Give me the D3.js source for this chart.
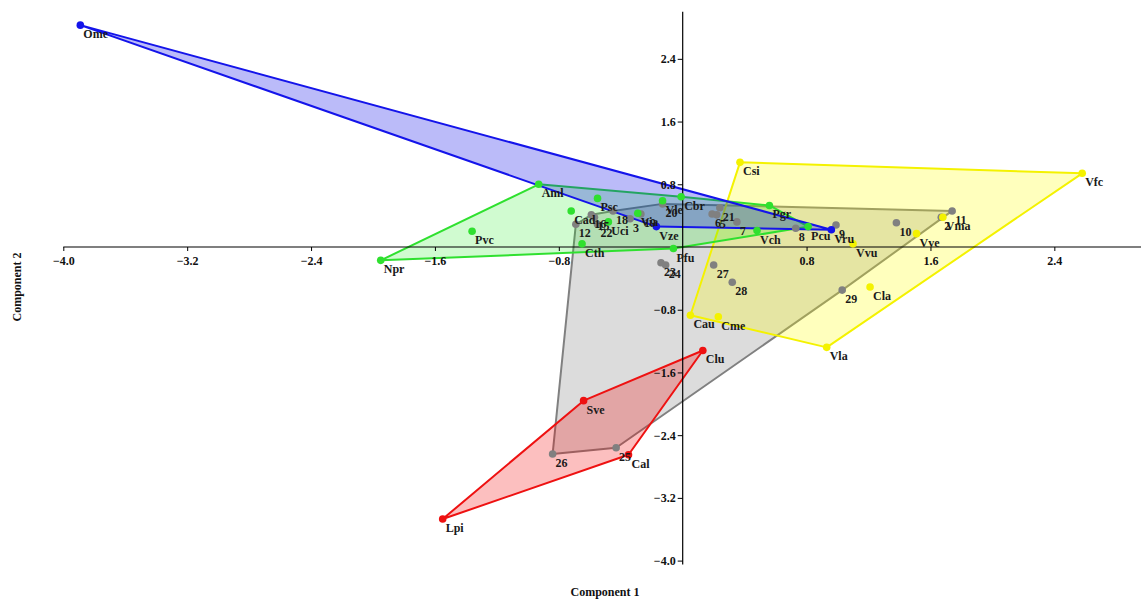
<!DOCTYPE html>
<html>
<head>
<meta charset="utf-8">
<script src="https://cdn.jsdelivr.net/npm/d3@7"></script>
<style>
  html, body { margin: 0; padding: 0; background: #fff; }
  svg { display: block; }
  text { font-family: "Liberation Serif", "Times New Roman", serif; font-weight: bold; }
</style>
</head>
<body>
<svg id="chart" width="1141" height="599"></svg>
<script>
// Scores on the first two components, one array per group: [label, comp1, comp2]
const grayGroup = [
  ["2", 1.67, 0.38], ["3", -0.34, 0.36], ["5", 0.22, 0.41], ["6", 0.19, 0.42],
  ["7", 0.35, 0.32], ["8", 0.73, 0.24], ["9", 0.99, 0.28], ["10", 1.38, 0.31],
  ["11", 1.74, 0.46], ["12", -0.69, 0.29], ["15", -0.57, 0.38], ["16", -0.59, 0.41],
  ["18", -0.45, 0.46], ["19", -0.27, 0.42], ["20", -0.13, 0.55], ["21", 0.24, 0.50],
  ["22", -0.55, 0.29], ["23", -0.14, -0.20], ["24", -0.11, -0.23], ["25", -0.43, -2.56],
  ["26", -0.84, -2.64], ["27", 0.20, -0.23], ["28", 0.32, -0.45], ["29", 1.03, -0.55]
];
const yellowGroup = [
  ["Csi", 0.37, 1.08], ["Vfc", 2.58, 0.94], ["Vla", 0.93, -1.28], ["Cau", 0.05, -0.87],
  ["Cme", 0.23, -0.89], ["Cla", 1.21, -0.51], ["Vve", 1.51, 0.17], ["Vvu", 1.10, 0.04],
  ["Vma", 1.68, 0.38]
];
const greenGroup = [
  ["Aml", -0.93, 0.80], ["Npr", -1.95, -0.17], ["Pvc", -1.36, 0.20], ["Psc", -0.55, 0.62],
  ["Cad", -0.72, 0.46], ["Cth", -0.65, 0.04], ["Uci", -0.48, 0.32], ["Via", -0.29, 0.43],
  ["Vle", -0.13, 0.59], ["Cbr", -0.01, 0.64], ["Pfu", -0.06, -0.02], ["Vch", 0.48, 0.21],
  ["Pgr", 0.56, 0.53], ["Pcu", 0.81, 0.26]
];
const blueGroup = [
  ["Ome", -3.89, 2.83], ["Vze", -0.17, 0.26], ["Vru", 0.96, 0.22]
];
const redGroup = [
  ["Clu", 0.13, -1.32], ["Sve", -0.64, -1.96], ["Cal", -0.35, -2.65], ["Lpi", -1.55, -3.47]
];

const xTicks = [-4.0, -3.2, -2.4, -1.6, -0.8, 0.8, 1.6, 2.4];
const yTicks = [2.4, 1.6, 0.8, -0.8, -1.6, -2.4, -3.2, -4.0];
const xTitle = "Component 1";
const yTitle = "Component 2";

const groups = [
  { pts: grayGroup,   stroke: "#808080", fill: "rgba(128,128,128,0.28)" },
  { pts: yellowGroup, stroke: "#f4f200", fill: "rgba(255,255,0,0.26)" },
  { pts: greenGroup,  stroke: "#2fe02f", fill: "rgba(20,235,20,0.2)" },
  { pts: blueGroup,   stroke: "#1414ea", fill: "rgba(10,10,235,0.28)" },
  { pts: redGroup,    stroke: "#ee1111", fill: "rgba(245,0,0,0.25)" }
];

const svg = d3.select("#chart");
const x = d3.scaleLinear().domain([-4.0, 2.95]).range([63.3, 1139.5]);
const y = d3.scaleLinear().domain([-4.0, 3.0]).range([560.6, 11.8]);

// Convex hull per group
const hulls = svg.append("g");
groups.forEach(g => {
  const hull = d3.polygonHull(g.pts.map(d => [x(d[1]), y(d[2])]));
  hulls.append("path")
    .attr("d", "M" + hull.join("L") + "Z")
    .attr("fill", g.fill)
    .attr("stroke", g.stroke)
    .attr("stroke-width", 2)
    .attr("stroke-linejoin", "round");
});

// Axes crossing at the origin
const xAxis = d3.axisBottom(x).tickValues(xTicks).tickFormat(d3.format(".1f")).tickSize(4).tickSizeOuter(0);
const yAxis = d3.axisLeft(y).tickValues(yTicks).tickFormat(d3.format(".1f")).tickSize(5).tickSizeOuter(0);

const gx = svg.append("g").attr("transform", `translate(0,${y(0)})`).call(xAxis);
const gy = svg.append("g").attr("transform", `translate(${x(0)},0)`).call(yAxis);
[gx, gy].forEach(g => {
  g.select(".domain").attr("stroke", "#000").attr("stroke-width", 1.2);
  g.selectAll(".tick line").attr("stroke", "#000");
  g.selectAll(".tick text").attr("fill", "#111").style("font-size", "12px");
});
gx.select(".domain").attr("d", `M${x(-4.0)},0H1141`);
gy.select(".domain").attr("d", `M0,${y(3.0)}V${y(-4.0) + 4}`);
gx.selectAll(".tick text").attr("dy", "0.9em");
gy.selectAll(".tick text").attr("x", -7);

// Points
const pts = svg.append("g");
groups.forEach(g => {
  pts.selectAll(null).data(g.pts).enter().append("circle")
    .attr("cx", d => x(d[1]))
    .attr("cy", d => y(d[2]))
    .attr("r", 3.8)
    .attr("fill", g.stroke);
});

// Point labels
const labels = svg.append("g");
groups.forEach(g => {
  labels.selectAll(null).data(g.pts).enter().append("text")
    .attr("x", d => x(d[1]) + 3)
    .attr("y", d => y(d[2]) + 13)
    .attr("fill", "#1a1a1a")
    .style("font-size", "12px")
    .text(d => d[0]);
});

// Axis titles
svg.append("text")
  .attr("x", 605).attr("y", 596)
  .attr("text-anchor", "middle")
  .style("font-size", "12px")
  .attr("fill", "#111")
  .text(xTitle);
svg.append("text")
  .attr("transform", "translate(21,287) rotate(-90)")
  .attr("text-anchor", "middle")
  .style("font-size", "12px")
  .attr("fill", "#111")
  .text(yTitle);
</script>
</body>
</html>
